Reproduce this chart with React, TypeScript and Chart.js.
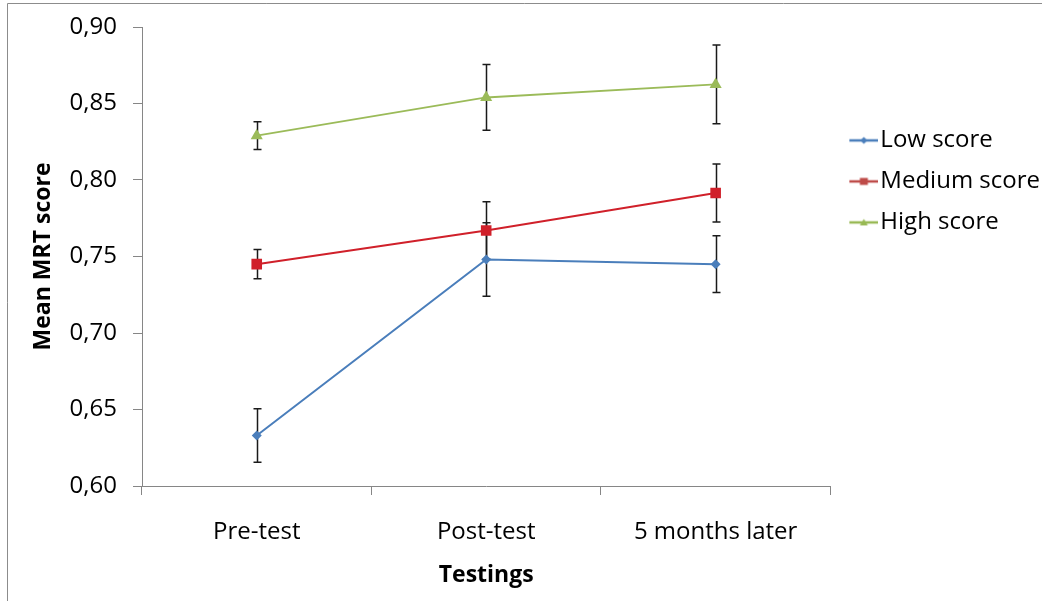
import React, { useEffect, useRef } from "react";
import { Chart, registerables } from "chart.js";

Chart.register(...registerables);

const categories = ["Pre-test", "Post-test", "5 months later"];
const seriesNames = ["Low score", "Medium score", "High score"];
const lowScore = [0.633, 0.748, 0.745];
const lowErr = [0.0175, 0.024, 0.0186];
const mediumScore = [0.745, 0.767, 0.7915];
const mediumErr = [0.0096, 0.0188, 0.019];
const highScore = [0.829, 0.854, 0.8625];
const highErr = [0.009, 0.0215, 0.0258];
const yMin = 0.6;
const yMax = 0.9;
const yStep = 0.05;
const xTitle = "Testings";
const yTitle = "Mean MRT score";

const colors = ["#4a7ebb", "#d0202a", "#9bbb59"];
const legendColors = ["#4a7ebb", "#be4b48", "#98b954"];
const pointStyles = ["rectRot", "rect", "triangle"];
const pointRadii = [5, 7.5, 7];
const errSets = [lowErr, mediumErr, highErr];

const FONT = "'Open Sans', sans-serif";

function makeLegendImage(color: string, shape: string): HTMLCanvasElement {
  const c = document.createElement("canvas");
  c.width = 41;
  c.height = 14;
  const g = c.getContext("2d")!;
  g.strokeStyle = color;
  g.lineWidth = 2.5;
  g.beginPath();
  g.moveTo(12, 7);
  g.lineTo(41, 7);
  g.stroke();
  g.fillStyle = color;
  const cx = 26.5;
  const cy = 7;
  g.beginPath();
  if (shape === "rectRot") {
    g.moveTo(cx, cy - 3.5);
    g.lineTo(cx + 3.5, cy);
    g.lineTo(cx, cy + 3.5);
    g.lineTo(cx - 3.5, cy);
  } else if (shape === "rect") {
    g.rect(cx - 4, cy - 3.5, 8, 7);
  } else {
    g.moveTo(cx, cy - 3.5);
    g.lineTo(cx + 4, cy + 3);
    g.lineTo(cx - 4, cy + 3);
  }
  g.closePath();
  g.fill();
  return c;
}

const framePlugin = {
  id: "frame",
  beforeDraw(chart: any) {
    const { ctx, width, height } = chart;
    ctx.save();
    ctx.strokeStyle = "#8c8c8c";
    ctx.lineWidth = 1;
    ctx.beginPath();
    ctx.moveTo(7.5, height);
    ctx.lineTo(7.5, 3.5);
    ctx.lineTo(width, 3.5);
    ctx.stroke();
    ctx.restore();
  },
};

const errorBarPlugin = {
  id: "errorBars",
  beforeDatasetsDraw(chart: any) {
    const { ctx } = chart;
    const y = chart.scales.y;
    ctx.save();
    ctx.strokeStyle = "#1a1a1a";
    ctx.lineWidth = 1.5;
    chart.data.datasets.forEach((ds: any, i: number) => {
      const meta = chart.getDatasetMeta(i);
      const errs = errSets[i];
      meta.data.forEach((pt: any, j: number) => {
        const v = ds.data[j];
        const x = Math.round(pt.x) + 0.5;
        const top = y.getPixelForValue(v + errs[j]);
        const bot = y.getPixelForValue(v - errs[j]);
        ctx.beginPath();
        ctx.moveTo(x, top);
        ctx.lineTo(x, bot);
        ctx.moveTo(x - 4, top);
        ctx.lineTo(x + 4, top);
        ctx.moveTo(x - 4, bot);
        ctx.lineTo(x + 4, bot);
        ctx.stroke();
      });
    });
    ctx.restore();
  },
};

export default function App() {
  const ref = useRef<HTMLCanvasElement | null>(null);

  useEffect(() => {
    document.body.style.margin = "0";
    const canvas = ref.current!;
    const legendImgs = colors.map((_, i) => makeLegendImage(legendColors[i], pointStyles[i]));
    const seriesData = [lowScore, mediumScore, highScore];

    const chart = new Chart(canvas, {
      type: "line",
      data: {
        labels: categories,
        datasets: seriesData.map((d, i) => ({
          label: seriesNames[i],
          data: d,
          borderColor: colors[i],
          backgroundColor: colors[i],
          borderWidth: 2,
          pointStyle: pointStyles[i] as any,
          pointRadius: pointRadii[i],
          pointBorderWidth: 0,
          pointBackgroundColor: colors[i],
          tension: 0,
        })),
      },
      options: {
        responsive: false,
        animation: false,
        devicePixelRatio: 1,
        layout: { padding: { left: 8, top: 27, right: -8, bottom: 0 } },
        plugins: {
          tooltip: { enabled: false },
          legend: {
            position: "right",
            align: "start",
            title: { display: true, text: "", padding: { top: 70, bottom: 0 }, font: { size: 12 } },
            labels: {
              usePointStyle: true,
              pointStyleWidth: 21,
              padding: 17,
              color: "#000",
              font: { family: FONT, size: 24 },
              generateLabels: (ch: any) => {
                const items = (Chart.defaults.plugins.legend.labels as any).generateLabels(ch);
                return items.map((it: any, i: number) => ({ ...it, pointStyle: legendImgs[i], fontColor: "#000" }));
              },
            },
          },
        },
        scales: {
          x: {
            type: "category",
            offset: true,
            grid: {
              offset: true,
              drawOnChartArea: false,
              drawTicks: true,
              tickLength: 9,
              color: "#868686",
            },
            border: { color: "#868686", width: 1 },
            ticks: { color: "#000", padding: 23, font: { family: FONT, size: 24 }, maxRotation: 0 },
            title: {
              display: true,
              text: xTitle,
              color: "#000",
              font: { family: FONT, size: 23, weight: "bold" },
              padding: { top: 0, bottom: 12 },
            },
            afterFit: (scale: any) => {
              scale.height = 115;
            },
          },
          y: {
            min: yMin,
            max: yMax,
            grid: {
              drawOnChartArea: false,
              drawTicks: true,
              tickLength: 9,
              color: "#868686",
            },
            border: { color: "#868686", width: 1 },
            ticks: {
              stepSize: yStep,
              color: "#000",
              padding: 16,
              font: { family: FONT, size: 24, lineHeight: 0.9 },
              callback: (v: any) => Number(v).toFixed(2).replace(".", ","),
            },
            title: {
              display: true,
              text: yTitle,
              color: "#000",
              font: { family: FONT, size: 23, weight: "bold" },
              padding: { top: 22, bottom: 0 },
            },
            afterFit: (scale: any) => {
              scale.width = 134;
            },
          },
        },
      },
      plugins: [framePlugin, errorBarPlugin],
    });
    return () => chart.destroy();
  }, []);

  return (
    <div style={{ width: 1042, height: 601, background: "#fff" }}>
      <canvas ref={ref} width={1042} height={601} style={{ display: "block", width: 1042, height: 601 }} />
    </div>
  );
}
